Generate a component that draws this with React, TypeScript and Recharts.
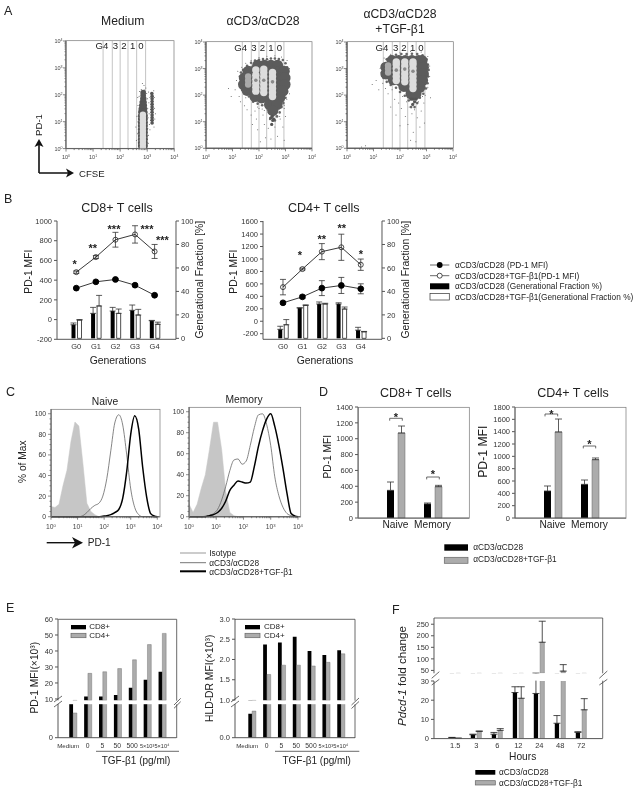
import React from "react";
import {
  Area,
  Bar,
  ComposedChart,
  ErrorBar,
  Line,
  ReferenceLine,
  Scatter,
  ScatterChart,
  XAxis,
  YAxis,
} from "recharts";

// panel A, exponents of 10 as [CFSE, PD-1]
const gateEdges = [1.37, 1.71, 2.0, 2.29, 2.61, 2.94];
const mediumHull = [[2.76,0.1],[2.92,0.1],[2.76,0.22],[2.92,0.22],[2.76,0.35],[2.92,0.35],[2.76,0.47],[2.92,0.47],[2.76,0.6],[2.92,0.6],[2.76,0.72],[2.92,0.72],[2.76,0.85],[2.92,0.85],[2.76,0.97],[2.92,0.97],[2.76,1.1],[2.92,1.1],[2.76,1.22],[2.92,1.22],[2.77,1.35],[2.91,1.35],[2.78,1.47],[2.9,1.47],[2.8,1.6],[2.89,1.6],[2.82,1.72],[2.88,1.72],[2.84,1.85],[2.87,1.85],[2.85,1.97],[2.85,2.08]];
const mediumSide = [[3.18,0.95],[3.18,1.05],[3.18,1.15],[3.18,1.25],[3.18,1.35],[3.18,1.45],[3.18,1.55],[3.18,1.65],[3.18,1.75],[3.18,1.85],[3.18,1.95],[3.17,2.05]];
const mediumCore = [[2.84,0.06],[2.84,0.18],[2.84,0.3],[2.84,0.42],[2.84,0.54],[2.84,0.66],[2.84,0.78],[2.84,0.9],[2.84,1.02],[2.84,1.14],[2.84,1.26]];
const mediumSpecks = [[2.6,0.3],[2.58,0.8],[2.62,1.2],[2.66,1.6],[2.7,1.95],[2.78,2.2],[2.95,2.25],[3.05,2.1],[3.06,1.7],[3.07,1.3],[3.08,0.9],[3.05,0.5],[3.04,0.2],[3.25,0.8],[3.28,1.1],[3.27,1.5],[3.26,1.9],[3.24,2.15],[3.1,1.9],[3.12,1.45],[3.13,1.05],[3.1,0.7],[2.88,2.35],[2.82,2.42],[2.72,2.12],[2.65,1.9],[3.3,1.3],[2.64,0.55],[2.66,1.0],[2.68,1.4],[2.74,1.75],[3.02,1.5],[3.03,1.15],[3.02,0.75],[3.0,0.35],[3.01,1.85],[2.98,2.05],[2.9,2.18]];

const alphaHull = [[1.95,3.12],[2.2,3.12],[2.45,3.12],[2.7,3.12],[1.6,2.9],[1.8,2.9],[2.05,2.9],[2.3,2.9],[2.55,2.9],[2.8,2.9],[2.95,2.9],[1.45,2.65],[1.65,2.65],[1.9,2.65],[2.15,2.65],[2.4,2.65],[2.65,2.65],[2.9,2.65],[2.98,2.65],[1.42,2.4],[1.65,2.4],[1.9,2.4],[2.15,2.4],[2.4,2.4],[2.65,2.4],[2.9,2.4],[2.98,2.4],[1.55,2.18],[1.75,2.15],[2.0,2.15],[2.25,2.15],[2.5,2.15],[2.75,2.15],[2.9,2.15],[1.85,1.95],[2.1,1.9],[2.35,1.9],[2.6,1.9],[2.78,1.9],[2.4,1.65],[2.55,1.65],[2.68,1.65],[2.52,1.42]];
const alphaFuzz = [[1.4,2.95],[1.55,3.1],[1.7,3.22],[1.85,3.3],[2.0,3.33],[2.15,3.36],[2.3,3.35],[2.45,3.38],[2.6,3.38],[2.75,3.36],[2.9,3.32],[3.0,3.2],[3.06,3.05],[3.08,2.85],[3.1,2.6],[3.1,2.35],[3.05,2.1],[3.0,1.9],[2.92,1.7],[2.85,1.55],[2.78,1.35],[2.68,1.2],[2.6,1.05],[2.42,1.1],[2.38,1.35],[2.28,1.55],[2.12,1.62],[1.95,1.68],[1.78,1.75],[1.62,1.95],[1.47,2.05],[1.36,2.2],[1.28,2.45],[1.28,2.7],[1.32,2.85]];
const alphaTail = [[2.5,1.2],[2.52,1.05],[2.48,0.9],[2.55,1.1],[2.45,1.15]];
const alphaLobes = [[1.88,2.15],[1.88,2.3],[1.88,2.45],[1.88,2.6],[1.88,2.75],[1.88,2.95],[2.18,2.1],[2.18,2.25],[2.18,2.4],[2.18,2.55],[2.18,2.7],[2.18,2.85],[2.18,2.98],[2.51,1.95],[2.51,2.1],[2.51,2.25],[2.51,2.4],[2.51,2.55],[2.51,2.7],[2.51,2.85]];
const alphaWeakLobe = [[1.59,2.4],[1.59,2.55],[1.59,2.7]];
const alphaCentres = [[1.88,2.56],[2.18,2.56],[2.51,2.5]];
const alphaSpecks = [[1.1,2.2],[1.15,2.55],[1.2,2.9],[1.25,1.95],[1.35,3.05],[1.3,1.75],[0.85,2.25],[0.95,1.95],[1.45,1.6],[1.55,1.45],[1.7,1.25],[1.85,1.4],[1.9,1.1],[1.95,0.7],[2.0,1.5],[2.15,1.25],[2.2,0.9],[2.25,0.4],[2.3,1.45],[2.35,0.75],[2.4,1.15],[2.45,0.35],[2.6,0.8],[2.65,1.2],[2.7,0.45],[2.8,1.1],[2.9,0.8],[2.95,0.3],[2.95,1.5],[3.0,1.2],[3.05,1.85],[3.1,2.3],[3.16,2.7],[3.15,3.0],[3.06,3.3],[2.85,3.44],[2.6,3.48],[2.3,3.46],[2.0,3.42],[1.7,3.3],[1.5,3.2],[1.95,1.55],[2.12,1.48],[1.75,0.9],[2.05,0.25],[1.5,1.9],[3.15,2.05],[2.78,1.2],[2.95,1.62],[2.2,1.42]];

const tgfHull = [[1.7,3.3],[1.95,3.3],[2.2,3.3],[2.45,3.3],[2.7,3.3],[2.83,3.3],[1.47,3.05],[1.7,3.05],[1.95,3.05],[2.2,3.05],[2.45,3.05],[2.7,3.05],[2.88,3.05],[1.47,2.8],[1.7,2.8],[1.95,2.8],[2.2,2.8],[2.45,2.8],[2.7,2.8],[2.88,2.8],[1.75,2.58],[2.0,2.55],[2.25,2.55],[2.5,2.55],[2.7,2.55],[2.85,2.55],[2.15,2.33],[2.35,2.3],[2.55,2.3],[2.75,2.3],[2.42,2.05],[2.6,2.05]];
const tgfFuzz = [[1.38,3.15],[1.5,3.35],[1.65,3.47],[1.85,3.52],[2.05,3.55],[2.25,3.55],[2.45,3.56],[2.65,3.55],[2.85,3.5],[3.0,3.35],[3.05,3.15],[3.08,2.95],[3.06,2.7],[3.04,2.45],[2.98,2.25],[2.88,2.05],[2.75,1.9],[2.65,1.7],[2.55,1.55],[2.42,1.55],[2.33,1.8],[2.18,1.98],[2.0,2.12],[1.85,2.28],[1.65,2.38],[1.5,2.5],[1.38,2.65],[1.32,2.85]];
const tgfTail = [[2.5,1.85],[2.55,1.75],[2.42,1.85],[2.6,1.85],[2.48,1.65]];
const tgfLobes = [[1.86,2.55],[1.86,2.7],[1.86,2.85],[1.86,3.0],[1.86,3.15],[1.86,3.25],[2.18,2.5],[2.18,2.65],[2.18,2.8],[2.18,2.95],[2.18,3.1],[2.18,3.25],[2.49,2.25],[2.49,2.4],[2.49,2.55],[2.49,2.7],[2.49,2.85],[2.49,3.0],[2.49,3.15],[2.49,3.25]];
const tgfWeakLobe = [[1.55,2.85],[1.55,3.0],[1.55,3.12]];
const tgfCentres = [[1.86,2.94],[2.18,2.98],[2.49,2.9]];
const tgfSpecks = [[0.95,2.4],[1.1,2.55],[1.2,2.2],[1.3,2.7],[1.35,2.45],[1.25,3.0],[0.55,0.05],[0.7,0.1],[1.45,2.25],[1.55,2.05],[1.7,2.2],[1.8,1.85],[1.95,1.7],[2.05,1.5],[2.1,1.95],[2.2,1.2],[2.25,1.75],[2.3,0.9],[2.35,1.55],[2.45,1.3],[2.5,0.6],[2.55,1.45],[2.6,0.25],[2.65,1.15],[2.7,1.75],[2.75,0.8],[2.8,1.4],[2.9,1.7],[2.92,0.95],[2.95,2.0],[3.05,2.3],[3.12,2.7],[3.12,3.1],[3.05,3.45],[2.8,3.62],[2.4,3.64],[2.0,3.6],[1.65,3.54],[1.4,3.4],[1.85,1.25],[2.0,0.85],[1.65,1.55],[2.85,1.95],[3.15,1.9],[2.4,0.3]];

// panel B
const generations = ["G0", "G1", "G2", "G3", "G4"];
const cd8Mfi = [319, 383, 407, 349, 247];
const cd8MfiErr = [6, 8, 8, 10, 6];
const cd8TgfMfi = [481, 634, 810, 864, 691];
const cd8TgfMfiErr = [12, 15, 75, 88, 71];
const cd8Frac = [11.6, 21.3, 23.3, 23.9, 15];
const cd8FracErr = [1.5, 5.1, 3.1, 4.5, 0.3];
const cd8TgfFrac = [15.6, 27.6, 21.3, 19.9, 12];
const cd8TgfFracErr = [0.4, 9, 3.7, 4.8, 1.8];
const cd4Mfi = [296, 392, 532, 575, 521];
const cd4MfiErr = [20, 25, 120, 129, 80];
const cd4TgfMfi = [548, 838, 1118, 1188, 908];
const cd4TgfMfiErr = [124, 15, 129, 210, 91];
const cd4Frac = [7.7, 25.9, 29.3, 29.3, 7];
const cd4FracErr = [2.6, 0.2, 1.7, 1, 2.4];
const cd4TgfFrac = [11.6, 28.1, 29.3, 25, 5.6];
const cd4TgfFracErr = [4.4, 0.4, 0.6, 1.7, 0.3];

// panel C, x is the exponent of 10
const histLog = [0,0.15,0.3,0.45,0.6,0.75,0.9,1.05,1.2,1.35,1.5,1.65,1.8,1.95,2.1,2.25,2.4,2.55,2.7,2.85,3,3.15,3.3,3.45,3.6,3.75,3.9,4];
const naiveIso = [10,9,12,30,45,73,92,88,52,13,5,2,0,0,0,0,0,0,0,0,0,0,0,0,0,0,0,0];
const naiveAlpha = [0,0,0,0,0,0,0,0,1,4,8,11,13,20,37,64,91,99,89,60,27,9,2,0,0,0,0,0];
const naiveTgf = [0,0,0,0,0,0,0,0,0,0,0,0,0,0.5,1,2,4,7,18,44,80,98,85,48,19,3,0.5,0];
const memoryIso = [12,4,12,27,40,64,90,90,64,24,4,1,0,0,0,0,0,0,0,0,0,0,0,0,0,0,0,0];
const memoryAlpha = [0,0,0,0,0.5,1,3,7,16,29,44,54,55,50,53,68,85,97,98,88,68,38,20,9,3,1,0,0];
const memoryTgf = [0,0,0,0,0,1,2,4,8,15,25,30,34,33,32,33,48,67,82,93,98,86,68,46,22,3,0.5,0];

// panel D
const subsets = ["Naive", "Memory"];
const dCd8 = [349, 177];
const dCd8Err = [105, 12];
const dCd8Tgf = [1072, 395];
const dCd8TgfErr = [88, 17];
const dCd4 = [438, 546];
const dCd4Err = [81, 70];
const dCd4Tgf = [1395, 946];
const dCd4TgfErr = [210, 27];

// panel E
const doses = ["Medium", "0", "5", "50", "500", "5×10³", "5×10⁴"];
const pdCd8 = [9, 11.5, 11.5, 12.5, 17, 22, 27];
const pdCd4 = [6.6, 26, 27, 29, 34.5, 44, 51];
const hlaCd8 = [0.71, 2.37, 2.42, 2.56, 2.21, 2.11, 2.23];
const hlaCd4 = [0.79, 1.63, 1.86, 1.86, 1.84, 1.93, 2.14];

// panel F
const hours = ["1.5", "3", "6", "12", "24", "48", "72"];
const foldAlpha = [0.6, 2, 2.3, 24, 23.5, 8, 3.2];
const foldAlphaErr = [0, 0.3, 0.9, 3, 14.8, 4, 0.4];
const foldTgf = [0.2, 3.8, 4.3, 21, 172, 47, 15];
const foldTgfErr = [0, 0.1, 0.9, 6, 91, 28, 5.8];

const FONT = "'Liberation Sans', Arial, sans-serif";
const AXIS = "#555";
const INK = "#333";
const BAR_GRAY = "#acacac";

type Plot = { l: number; r: number; t: number; b: number };

// puts a chart so that its plot area lands on the given box
// room is spare width on the right, foot is spare height under a chart with a hidden x axis
const place = (p: Plot, leftW: number, rightW: number, xH: number, room = 0, foot = 0) => ({
  style: { position: "absolute" as const, left: p.l - leftW, top: p.t - 6 },
  width: p.r - p.l + leftW + rightW + room,
  height: p.b - p.t + 6 + xH + foot,
  margin: { top: 6, right: room, bottom: foot, left: 0 },
});

const XLogTick = (props: any) => {
  const { x, y, payload, fs, dy } = props;
  const major = Number.isInteger(payload.value);
  return (
    <g>
      <line x1={x} x2={x} y1={y} y2={y + (major ? 3 : 1.5)} stroke="#333" strokeWidth={0.6} />
      {major && (
        <text x={x} y={y + dy} textAnchor="middle" fontSize={fs} fill="#444">
          10<tspan fontSize={fs * 0.62} dy={-2}>{payload.value}</tspan>
        </text>
      )}
    </g>
  );
};

const YLogTick = (props: any) => {
  const { x, y, payload } = props;
  const major = Number.isInteger(payload.value);
  return (
    <g>
      <line x1={x} x2={x - (major ? 3 : 1.5)} y1={y} y2={y} stroke="#333" strokeWidth={0.6} />
      {major && (
        <text x={x - 3.5} y={y + 2} textAnchor="end" fontSize={5.5} fill="#444">
          10<tspan fontSize={3.6} dy={-2}>{payload.value}</tspan>
        </text>
      )}
    </g>
  );
};

const minors = [0, 0.301, 0.477, 0.602, 0.699, 0.778, 0.845, 0.903, 0.954];
const logTicks = [0, 1, 2, 3].flatMap((d) => minors.map((m) => d + m)).concat(4);

const CountTick = (props: any) => {
  const { x, y, payload } = props;
  const major = payload.value % 20 === 0;
  return (
    <g>
      <line x1={x} x2={x - (major ? 3 : 1.5)} y1={y} y2={y} stroke="#444" strokeWidth={0.6} />
      {major && (
        <text x={x - 5} y={y + 2.5} textAnchor="end" fontSize={6.8} fill="#333">
          {payload.value}
        </text>
      )}
    </g>
  );
};

const DoseTick = (props: any) => {
  const { x, y, payload } = props;
  const small = String(payload.value).includes("×");
  const first = payload.value === "Medium";
  return (
    <text x={first ? x - 4.5 : x} y={y + 10} textAnchor="middle" fontSize={small ? 5.6 : first ? 6.2 : 6.8} fill="#333">
      {payload.value}
    </text>
  );
};

const toPts = (a: number[][]) => a.map(([x, y]) => ({ x, y }));
const dot = (r: number, fill: string) => (p: any) => <circle cx={p.cx} cy={p.cy} r={r} fill={fill} />;

type Layer = { pts: number[][]; r: number; fill: string };

const FlowPlot = ({ plot, layers }: { plot: Plot; layers: Layer[] }) => {
  const c = place(plot, 22, 0, 16, 8);
  return (
    <div style={{ ...c.style, filter: "blur(0.4px)" }}>
      <ScatterChart width={c.width} height={c.height} margin={c.margin}>
        <XAxis type="number" dataKey="x" domain={[0, 4]} ticks={logTicks} interval={0} tick={<XLogTick fs={5.5} dy={10.5} />} tickLine={false} tickSize={0} tickMargin={0} stroke="#333" height={16} />
        <YAxis type="number" dataKey="y" domain={[0, 4]} ticks={logTicks} interval={0} tick={<YLogTick />} tickLine={false} tickSize={0} tickMargin={0} stroke="#333" width={22} />
        {layers.map((l, i) => (
          <Scatter key={i} data={toPts(l.pts)} shape={dot(l.r, l.fill)} isAnimationActive={false} />
        ))}
        {gateEdges.map((g) => (
          <ReferenceLine key={g} x={g} stroke="#aaa" strokeWidth={0.7} />
        ))}
      </ScatterChart>
    </div>
  );
};

const Histogram = ({ plot, iso, alpha, tgf, top }: { plot: Plot; iso: number[]; alpha: number[]; tgf: number[]; top: number }) => {
  const rows = histLog.map((x, i) => ({ x, iso: iso[i], alpha: alpha[i], tgf: tgf[i] }));
  const c = place(plot, 26, 0, 16, 8);
  const countTicks = [0, 5, 10, 15, 20, 25, 30, 35, 40, 45, 50, 55, 60, 65, 70, 75, 80, 85, 90, 95, 100];
  return (
    <div style={c.style}>
      <ComposedChart width={c.width} height={c.height} margin={c.margin} data={rows}>
        <XAxis type="number" dataKey="x" domain={[0, 4.09]} ticks={logTicks} interval={0} tick={<XLogTick fs={6.8} dy={12.5} />} tickLine={false} tickSize={0} tickMargin={0} stroke="#444" height={16} />
        <YAxis domain={[0, top]} ticks={countTicks} interval={0} tick={<CountTick />} tickLine={false} tickSize={0} tickMargin={0} stroke="#444" width={26} />
        <Area dataKey="iso" type="linear" fill="#c6c6c6" fillOpacity={1} stroke="#c6c6c6" strokeWidth={0.5} isAnimationActive={false} dot={false} activeDot={false} />
        <Line dataKey="alpha" type="monotone" stroke="#666" strokeWidth={0.8} dot={false} isAnimationActive={false} />
        <Line dataKey="tgf" type="monotone" stroke="#000" strokeWidth={1.5} dot={false} isAnimationActive={false} />
      </ComposedChart>
    </div>
  );
};

const GenChart = ({ plot, domain, ticks, pad, mfi, mfiErr, tgf, tgfErr, frac, fracErr, tFrac, tFracErr }: any) => {
  const rows = generations.map((g, i) => ({
    g,
    mfi: mfi[i],
    mfiE: mfiErr[i],
    tgf: tgf[i],
    tgfE: tgfErr[i],
    frac: frac[i],
    fracE: [0, fracErr[i]],
    tFrac: tFrac[i],
    tFracE: [0, tFracErr[i]],
  }));
  const c = place(plot, 30, 22, 20);
  return (
    <div style={c.style}>
      <ComposedChart width={c.width} height={c.height} margin={c.margin} data={rows} barSize={4} barGap={2}>
        <XAxis dataKey="g" padding={pad} tick={{ fontSize: 7.5, fill: INK }} tickLine={false} tickSize={0} tickMargin={4} stroke={AXIS} height={20} interval={0} />
        <YAxis yAxisId="left" domain={domain} ticks={ticks} interval={0} tick={{ fontSize: 7.5, fill: INK }} tickSize={3} tickMargin={2} stroke={AXIS} width={30} />
        <YAxis yAxisId="right" orientation="right" domain={[-0.8, 100]} ticks={[0, 20, 40, 60, 80, 100]} interval={0} tick={{ fontSize: 7.5, fill: INK }} tickSize={3} tickMargin={2} stroke={AXIS} width={22} />
        <Bar yAxisId="right" dataKey="frac" fill="#000" isAnimationActive={false}>
          <ErrorBar dataKey="fracE" width={3} stroke="#333" strokeWidth={0.8} />
        </Bar>
        <Bar yAxisId="right" dataKey="tFrac" fill="#fff" stroke="#222" strokeWidth={0.8} isAnimationActive={false}>
          <ErrorBar dataKey="tFracE" width={3} stroke="#333" strokeWidth={0.8} />
        </Bar>
        <Line yAxisId="left" dataKey="mfi" stroke="#222" strokeWidth={0.9} dot={{ r: 2.9, fill: "#000", stroke: "#000" }} isAnimationActive={false}>
          <ErrorBar dataKey="mfiE" width={3} stroke="#333" strokeWidth={0.8} />
        </Line>
        <Line yAxisId="left" dataKey="tgf" stroke="#222" strokeWidth={0.9} dot={{ r: 2.5, fill: "#fff", stroke: "#222", strokeWidth: 0.8, fillOpacity: 0 }} isAnimationActive={false}>
          <ErrorBar dataKey="tgfE" width={3} stroke="#333" strokeWidth={0.8} />
        </Line>
      </ComposedChart>
    </div>
  );
};

const SubsetChart = ({ plot, max, ticks, a, aErr, b, bErr }: any) => {
  const rows = subsets.map((s, i) => ({ s, a: a[i], aE: [0, aErr[i]], b: b[i], bE: [0, bErr[i]] }));
  const c = place(plot, 28, 0, 18);
  return (
    <div style={c.style}>
      <ComposedChart width={c.width} height={c.height} margin={c.margin} data={rows} barSize={7} barGap={4}>
        <XAxis dataKey="s" padding={{ left: 19, right: 18 }} tick={{ fontSize: 10.2, fill: "#222" }} tickLine={false} tickSize={0} tickMargin={3} stroke={AXIS} height={18} interval={0} />
        <YAxis domain={[0, max]} ticks={ticks} interval={0} tick={{ fontSize: 7.5, fill: INK }} tickSize={3} tickMargin={2} stroke={AXIS} width={28} />
        <Bar dataKey="a" fill="#000" isAnimationActive={false}>
          <ErrorBar dataKey="aE" width={3.5} stroke="#333" strokeWidth={0.8} />
        </Bar>
        <Bar dataKey="b" fill={BAR_GRAY} stroke="#666" strokeWidth={0.5} isAnimationActive={false}>
          <ErrorBar dataKey="bE" width={3.5} stroke="#333" strokeWidth={0.8} />
        </Bar>
      </ComposedChart>
    </div>
  );
};

// one broken axis is two stacked charts that share the categories
const DoseChart = ({ top, low, pad, domainTop, ticksTop, domainLow, cd8, cd4, fmt }: any) => {
  const rows = doses.map((d, i) => ({ d, a: cd8[i], b: cd4[i] }));
  const cT = place(top, 24, 0, 0, 0, 6);
  const cL = place(low, 24, 0, 18);
  const bars = [
    <Bar key="a" dataKey="a" fill="#000" isAnimationActive={false} />,
    <Bar key="b" dataKey="b" fill={BAR_GRAY} stroke="#666" strokeWidth={0.4} isAnimationActive={false} />,
  ];
  return (
    <>
      <div style={cT.style}>
        <ComposedChart width={cT.width} height={cT.height} margin={cT.margin} data={rows} barSize={3.8} barGap={0}>
          <XAxis dataKey="d" hide padding={pad} />
          <YAxis domain={domainTop} allowDataOverflow ticks={ticksTop} interval={0} tickFormatter={fmt} tick={{ fontSize: 7.5, fill: INK }} tickSize={3} tickMargin={2} stroke={AXIS} width={24} />
          {bars}
        </ComposedChart>
      </div>
      <div style={cL.style}>
        <ComposedChart width={cL.width} height={cL.height} margin={cL.margin} data={rows} barSize={3.8} barGap={0}>
          <XAxis dataKey="d" padding={pad} tick={<DoseTick />} tickLine={false} tickSize={0} tickMargin={0} stroke={AXIS} height={18} interval={0} />
          <YAxis domain={domainLow} allowDataOverflow ticks={[0]} interval={0} tickFormatter={fmt} tick={{ fontSize: 7.5, fill: INK }} tickSize={3} tickMargin={2} stroke={AXIS} width={24} />
          {bars}
        </ComposedChart>
      </div>
    </>
  );
};

const FoldChart = () => {
  const rows = hours.map((h, i) => ({ h, a: foldAlpha[i], aE: [0, foldAlphaErr[i]], b: foldTgf[i], bE: [0, foldTgfErr[i]] }));
  const pad = { left: 10.8, right: 10.9 };
  const cT = place({ l: 434, r: 602.7, t: 618, b: 673.3 }, 26, 0, 0, 0, 6);
  const cL = place({ l: 434, r: 602.7, t: 680.7, b: 738.3 }, 26, 0, 18);
  const bars = [
    <Bar key="a" dataKey="a" fill="#000" isAnimationActive={false}>
      <ErrorBar dataKey="aE" width={3.5} stroke="#222" strokeWidth={0.8} />
    </Bar>,
    <Bar key="b" dataKey="b" fill={BAR_GRAY} stroke="#666" strokeWidth={0.4} isAnimationActive={false}>
      <ErrorBar dataKey="bE" width={3.5} stroke="#222" strokeWidth={0.8} />
    </Bar>,
  ];
  return (
    <>
      <div style={cT.style}>
        <ComposedChart width={cT.width} height={cT.height} margin={cT.margin} data={rows} barSize={4.3} barGap={2}>
          <XAxis dataKey="h" hide padding={pad} />
          <YAxis domain={[37.5, 277]} allowDataOverflow ticks={[50, 100, 150, 200, 250]} interval={0} tick={{ fontSize: 7.5, fill: INK }} tickSize={3} tickMargin={2} stroke={AXIS} width={26} />
          {bars}
        </ComposedChart>
      </div>
      <div style={cL.style}>
        <ComposedChart width={cL.width} height={cL.height} margin={cL.margin} data={rows} barSize={4.3} barGap={2}>
          <XAxis dataKey="h" padding={pad} tick={{ fontSize: 7.5, fill: INK }} tickLine={false} tickSize={0} tickMargin={4} stroke={AXIS} height={18} interval={0} />
          <YAxis domain={[0, 30]} allowDataOverflow ticks={[0, 10, 20, 30]} interval={0} tick={{ fontSize: 7.5, fill: INK }} tickSize={3} tickMargin={2} stroke={AXIS} width={26} />
          {bars}
        </ComposedChart>
      </div>
    </>
  );
};

// titles, axis captions, legends, stars: everything around the plots
const T = ({ x, y, s = 8.3, a = "start", r, fill = "#222", w, i, children }: any) => (
  <text
    x={x}
    y={y}
    fontSize={s}
    textAnchor={a}
    dominantBaseline="central"
    fill={fill}
    fontWeight={w}
    fontStyle={i ? "italic" : undefined}
    transform={r ? `rotate(${r} ${x} ${y})` : undefined}
  >
    {children}
  </text>
);
const Star = ({ x, y, n = 1 }: any) => (
  <text x={x} y={y + 5.6} fontSize={11} fontWeight="bold" textAnchor="middle" fill="#222">
    {"*".repeat(n)}
  </text>
);
const Box = ({ p }: { p: Plot }) => (
  <rect x={p.l} y={p.t} width={p.r - p.l} height={p.b - p.t} fill="none" stroke="#777" strokeWidth={0.7} />
);
const Seg = ({ d, w = 0.8, c = "#444" }: any) => <path d={d} fill="none" stroke={c} strokeWidth={w} />;
const Bracket = ({ x1, x2, y }: any) => <Seg d={`M${x1} ${y + 2.4}V${y}H${x2}V${y + 2.4}`} />;
const Swatch = ({ x, y, w, h, fill, stroke }: any) => <rect x={x} y={y} width={w} height={h} fill={fill} stroke={stroke} strokeWidth={0.7} />;
// white band of an axis break, it keeps to the inside of the plot
const BreakBand = ({ x1, x2, y1, y2 }: any) => <rect x={x1} y={y1} width={x2 - x1} height={y2 - y1} fill="#fff" />;

const flow1 = { l: 65.7, r: 174, t: 40.7, b: 148.3 };
const flow2 = { l: 206, r: 312, t: 41.7, b: 148 };
const flow3 = { l: 347.3, r: 453.3, t: 41.7, b: 148 };
const genCd8 = { l: 56.7, r: 175.7, t: 221, b: 339.3 };
const genCd4 = { l: 263.3, r: 382.3, t: 221, b: 339.3 };
const histNaive = { l: 51.3, r: 160, t: 409.3, b: 517 };
const histMemory = { l: 189.3, r: 300.7, t: 407.3, b: 517 };
const subCd8 = { l: 358.3, r: 469.3, t: 407.3, b: 518.3 };
const subCd4 = { l: 515, r: 626, t: 407.3, b: 518.3 };
const pdTop = { l: 58.3, r: 176.7, t: 619.3, b: 700.7 };
const pdLow = { l: 58.3, r: 176.7, t: 704.3, b: 738 };
const hlaTop = { l: 235, r: 355, t: 619.3, b: 700.7 };
const hlaLow = { l: 235, r: 355, t: 704.3, b: 738 };

const Overlay = () => (
  <svg width={637} height={794} style={{ position: "absolute", left: 0, top: 0, pointerEvents: "none" }}>
    {/* axis break bands */}
    <BreakBand x1={59} x2={176} y1={700.9} y2={704.2} />
    <BreakBand x1={235.7} x2={354.3} y1={700.9} y2={704.2} />
    <BreakBand x1={434.7} x2={602} y1={673.5} y2={680.6} />

    {/* panel letters */}
    <T x={4} y={11} s={12.5}>A</T>
    <T x={4} y={199} s={12.5}>B</T>
    <T x={6} y={392} s={12.5}>C</T>
    <T x={319} y={392} s={12.5}>D</T>
    <T x={6} y={608} s={12.5}>E</T>
    <T x={392} y={610} s={12.5}>F</T>

    {/* A */}
    <T x={122.7} y={21} s={12.2} a="middle">Medium</T>
    <T x={263} y={21} s={12.2} a="middle">αCD3/αCD28</T>
    <T x={400} y={14} s={12.2} a="middle">αCD3/αCD28</T>
    <T x={400} y={29.3} s={12.2} a="middle">+TGF-β1</T>
    <Box p={flow1} />
    <Box p={flow2} />
    <Box p={flow3} />
    {[[102, "G4"], [115.3, "3"], [124, "2"], [132.7, "1"], [141, "0"]].map(([x, t]) => (
      <T key={t} x={x} y={45.7} s={9.6} a="middle">{t}</T>
    ))}
    {[[240.7, "G4"], [254, "3"], [262.3, "2"], [271, "1"], [279.3, "0"]].map(([x, t]) => (
      <T key={t} x={x} y={47.3} s={9.6} a="middle">{t}</T>
    ))}
    {[[382, "G4"], [395.7, "3"], [404, "2"], [412.7, "1"], [421, "0"]].map(([x, t]) => (
      <T key={t} x={x} y={47.3} s={9.6} a="middle">{t}</T>
    ))}
    <Seg d="M39 173V143M39 173H68" w={1.6} c="#111" />
    <path d="M39 139L34.5 147L39 145L43.5 147Z M74 173L66 168.5L68 173L66 177.5Z" fill="#111" />
    <T x={79} y={173} s={9.6}>CFSE</T>
    <T x={38.5} y={125} s={9.6} a="middle" r={-90}>PD-1</T>

    {/* B */}
    <T x={117} y={207.5} s={12.5} a="middle">CD8+ T cells</T>
    <T x={323.8} y={207.5} s={12.5} a="middle">CD4+ T cells</T>
    <T x={28.3} y={271.7} s={10.3} a="middle" r={-90}>PD-1 MFI</T>
    <T x={234} y={271.7} s={10.3} a="middle" r={-90}>PD-1 MFI</T>
    <T x={200} y={279.7} s={10.4} a="middle" r={-90}>Generational Fraction [%]</T>
    <T x={405.7} y={279.7} s={10.4} a="middle" r={-90}>Generational Fraction [%]</T>
    <T x={118} y={360.7} s={10.4} a="middle">Generations</T>
    <T x={325} y={360.7} s={10.4} a="middle">Generations</T>
    <Star x={74.7} y={262.7} />
    <Star x={92.7} y={246.7} n={2} />
    <Star x={114} y={227.7} n={3} />
    <Star x={147} y={227.7} n={3} />
    <Star x={162.3} y={238.3} n={3} />
    <Star x={300} y={253.7} />
    <Star x={321.7} y={237.5} n={2} />
    <Star x={341.7} y={226.7} n={2} />
    <Star x={361} y={252} />
    <Seg d="M430 265H449.3" />
    <circle cx={439.7} cy={265} r={2.9} fill="#000" />
    <Seg d="M430 275.7H449.3" />
    <circle cx={439.7} cy={275.7} r={2.5} fill="#fff" stroke="#222" strokeWidth={0.8} />
    <Swatch x={430} y={283.3} w={19.3} h={6} fill="#000" />
    <Swatch x={430} y={293.5} w={19.3} h={6.5} fill="#fff" stroke="#333" />
    <T x={455} y={265}>αCD3/αCD28 (PD-1 MFI)</T>
    <T x={455} y={275.7}>αCD3/αCD28+TGF-β1(PD-1 MFI)</T>
    <T x={455} y={286.3}>αCD3/αCD28 (Generational Fraction %)</T>
    <T x={455} y={296.7}>αCD3/αCD28+TGF-β1(Generational Fraction %)</T>

    {/* C */}
    <T x={105} y={401} s={10.3} a="middle">Naive</T>
    <T x={244} y={399} s={10.3} a="middle">Memory</T>
    <T x={22.7} y={461.7} s={10.2} a="middle" r={-90}>% of Max</T>
    <Box p={histNaive} />
    <Box p={histMemory} />
    <Seg d="M46.7 542.7H78" w={1.4} c="#111" />
    <path d="M83 542.7L72 537L75 542.7L72 548.4Z" fill="#111" />
    <T x={87.7} y={542.7} s={10.1}>PD-1</T>
    <Seg d="M180 553H206" w={2} c="#ccc" />
    <Seg d="M180 562.7H206" w={1} c="#777" />
    <Seg d="M180 571.3H206" w={2} c="#000" />
    <T x={209.3} y={553}>Isotype</T>
    <T x={209.3} y={562.5}>αCD3/αCD28</T>
    <T x={209.3} y={571.5}>αCD3/αCD28+TGF-β1</T>

    {/* D */}
    <T x={415.7} y={392.7} s={12.5} a="middle">CD8+ T cells</T>
    <T x={573} y={392.7} s={12.5} a="middle">CD4+ T cells</T>
    <T x={327.3} y={456.7} s={10.2} a="middle" r={-90}>PD-1 MFI</T>
    <T x={482.7} y={451.7} s={12.2} a="middle" r={-90}>PD-1 MFI</T>
    <Box p={subCd8} />
    <Box p={subCd4} />
    <Bracket x1={389.7} x2={402.3} y={418.3} />
    <Star x={396} y={415} />
    <Bracket x1={426.7} x2={439.3} y={477} />
    <Star x={433} y={472} />
    <Bracket x1={545} x2={557.7} y={414} />
    <Star x={551.3} y={412.3} />
    <Bracket x1={583.3} x2={595.7} y={446} />
    <Star x={589.3} y={442.3} />
    <Swatch x={444.3} y={544.3} w={23.7} h={6.4} fill="#000" />
    <Swatch x={444.3} y={557.3} w={23.7} h={6} fill={BAR_GRAY} stroke="#666" />
    <T x={473.3} y={547.3}>αCD3/αCD28</T>
    <T x={473.3} y={559.3}>αCD3/αCD28+TGF-β1</T>

    {/* E */}
    <T x={35} y={677.7} s={10.3} a="middle" r={-90}>PD-1 MFI(×10³)</T>
    <T x={210} y={678.3} s={10.3} a="middle" r={-90}>HLD-DR MFI(×10³)</T>
    <Seg d="M58.3 619.3H176.7V700.7M176.7 704.3V738" />
    <Seg d="M235 619.3H355V700.7M355 704.3V738" />
    <Seg d="M54 702L62 696M54 707L62 701M174 705L180.7 698.3M174 708.3L180.7 701.7" />
    <Seg d="M231 702L239 696M231 707L239 701M351.5 705L359 698M351.5 708.5L359 701.5" />
    <Seg d="M96 751.3H179" />
    <Seg d="M275 751.3H359.3" />
    <T x={136} y={760} s={10} a="middle">TGF-β1 (pg/ml)</T>
    <T x={316.7} y={760} s={10} a="middle">TGF-β1 (pg/ml)</T>
    <Swatch x={71} y={625} w={15} h={4.3} fill="#000" />
    <Swatch x={71} y={633.3} w={15} h={4.4} fill={BAR_GRAY} stroke="#666" />
    <T x={89.3} y={626.9} s={8}>CD8+</T>
    <T x={89.3} y={635.9} s={8}>CD4+</T>
    <Swatch x={245} y={625} w={15} h={4.3} fill="#000" />
    <Swatch x={245} y={633.3} w={15} h={4.4} fill={BAR_GRAY} stroke="#666" />
    <T x={264} y={626.9} s={8}>CD8+</T>
    <T x={264} y={635.9} s={8}>CD4+</T>

    {/* F */}
    <text x={401} y={676} fontSize={11.6} textAnchor="middle" dominantBaseline="central" fill="#222" transform="rotate(-90 401 676)">
      <tspan fontStyle="italic">Pdcd-1</tspan> fold change
    </text>
    <T x={522.7} y={756} s={10.2} a="middle">Hours</T>
    <Seg d="M434 618H602.7V673.3M602.7 680.7V738.3" />
    <Seg d="M431.7 678.3L439.3 671.7M431.7 685L439.3 679.3M599.3 678.3L607.3 671M599.3 685L607.3 679.3" />
    <Swatch x={475.3} y={770} w={20} h={4.7} fill="#000" />
    <Swatch x={475.3} y={780.7} w={20} h={4.3} fill={BAR_GRAY} stroke="#666" />
    <T x={499} y={772.3}>αCD3/αCD28</T>
    <T x={499} y={782.7}>αCD3/αCD28+TGF-β1</T>
  </svg>
);

const fmtOne = (v: number) => v.toFixed(1);

export default function App() {
  return (
    <div style={{ position: "absolute", left: 0, top: 0, width: 637, height: 794, background: "#fff", fontFamily: FONT, overflow: "hidden", filter: "blur(0.25px)" }}>
      <FlowPlot
        plot={flow1}
        layers={[
          { pts: mediumSpecks, r: 0.5, fill: "#555" },
          { pts: mediumSide, r: 1.8, fill: "#555" },
          { pts: mediumHull, r: 2.8, fill: "#555" },
          { pts: mediumCore, r: 3.2, fill: "#ddd" },
        ]}
      />
      <FlowPlot
        plot={flow2}
        layers={[
          { pts: alphaSpecks, r: 0.5, fill: "#555" },
          { pts: alphaFuzz, r: 1.3, fill: "#666" },
          { pts: alphaHull, r: 5.6, fill: "#5c5c5c" },
          { pts: alphaTail, r: 1.6, fill: "#555" },
          { pts: alphaWeakLobe, r: 3.2, fill: "#aaa" },
          { pts: alphaLobes, r: 3.7, fill: "#ddd" },
          { pts: alphaCentres, r: 1.8, fill: "#8a8a8a" },
        ]}
      />
      <FlowPlot
        plot={flow3}
        layers={[
          { pts: tgfSpecks, r: 0.5, fill: "#555" },
          { pts: tgfFuzz, r: 1.3, fill: "#666" },
          { pts: tgfHull, r: 5.6, fill: "#5c5c5c" },
          { pts: tgfTail, r: 1.6, fill: "#555" },
          { pts: tgfWeakLobe, r: 3.2, fill: "#aaa" },
          { pts: tgfLobes, r: 3.7, fill: "#ddd" },
          { pts: tgfCentres, r: 1.8, fill: "#8a8a8a" },
        ]}
      />
      <GenChart plot={genCd8} domain={[-200, 1000]} ticks={[-200, 0, 200, 400, 600, 800, 1000]} pad={{ left: 9.5, right: 11.6 }} mfi={cd8Mfi} mfiErr={cd8MfiErr} tgf={cd8TgfMfi} tgfErr={cd8TgfMfiErr} frac={cd8Frac} fracErr={cd8FracErr} tFrac={cd8TgfFrac} tFracErr={cd8TgfFracErr} />
      <GenChart plot={genCd4} domain={[-290, 1610]} ticks={[-200, 0, 200, 400, 600, 800, 1000, 1200, 1400, 1600]} pad={{ left: 10.25, right: 11.5 }} mfi={cd4Mfi} mfiErr={cd4MfiErr} tgf={cd4TgfMfi} tgfErr={cd4TgfMfiErr} frac={cd4Frac} fracErr={cd4FracErr} tFrac={cd4TgfFrac} tFracErr={cd4TgfFracErr} />
      <Histogram plot={histNaive} iso={naiveIso} alpha={naiveAlpha} tgf={naiveTgf} top={104.6} />
      <Histogram plot={histMemory} iso={memoryIso} alpha={memoryAlpha} tgf={memoryTgf} top={104.5} />
      <SubsetChart plot={subCd8} max={1400} ticks={[0, 200, 400, 600, 800, 1000, 1200, 1400]} a={dCd8} aErr={dCd8Err} b={dCd8Tgf} bErr={dCd8TgfErr} />
      <SubsetChart plot={subCd4} max={1800} ticks={[0, 200, 400, 600, 800, 1000, 1200, 1400, 1600, 1800]} a={dCd4} aErr={dCd4Err} b={dCd4Tgf} bErr={dCd4TgfErr} />
      <DoseChart top={pdTop} low={pdLow} pad={{ left: 7.25, right: 6.95 }} domainTop={[9.1, 60]} ticksTop={[10, 20, 30, 40, 50, 60]} domainLow={[0, 9]} cd8={pdCd8} cd4={pdCd4} />
      <DoseChart top={hlaTop} low={hlaLow} pad={{ left: 9.3, right: 6.9 }} domainTop={[0.99, 3]} ticksTop={[1, 1.5, 2, 2.5, 3]} domainLow={[0, 1]} cd8={hlaCd8} cd4={hlaCd4} fmt={fmtOne} />
      <FoldChart />
      <Overlay />
    </div>
  );
}
